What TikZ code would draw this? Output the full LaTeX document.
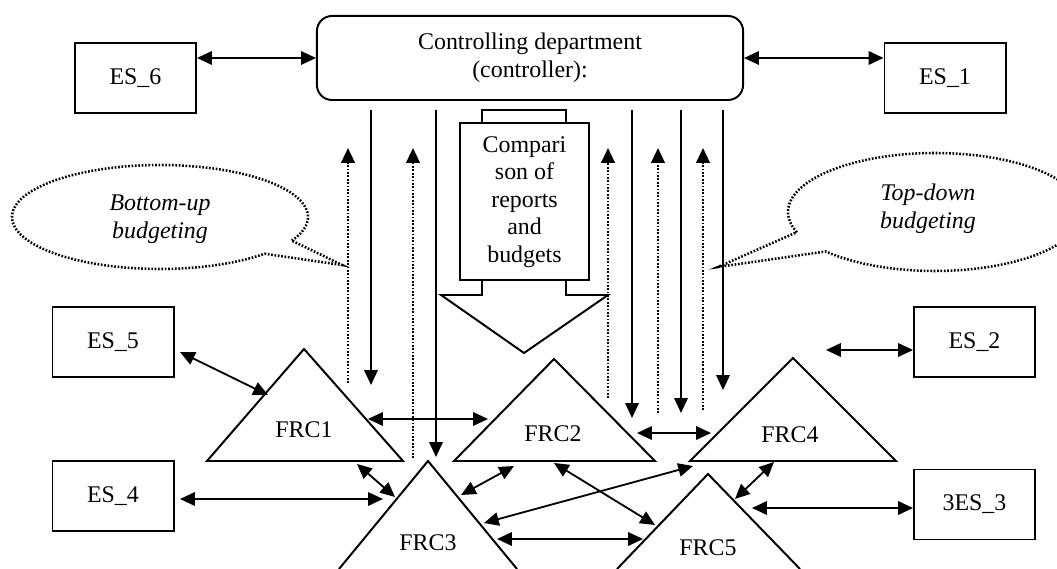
\documentclass[tikz,border=0pt]{standalone}
\usepackage{fontspec}
\setmainfont{Liberation Serif}
\usetikzlibrary{arrows.meta}
\begin{document}
\begin{tikzpicture}[x=0.025cm,y=-0.025cm,
  every node/.style={font=\fontsize{17}{20}\selectfont},
  esbox/.style={draw,line width=1.4pt,minimum width=3.025cm,minimum height=1.75cm,inner sep=0pt},
  conn/.style={line width=1.3pt,{Triangle[length=10.5pt,width=9.5pt]}-{Triangle[length=10.5pt,width=9.5pt]}},
  downarr/.style={line width=1.3pt,-{Triangle[length=10.5pt,width=9.5pt]}},
  dots/.style={line width=1.8pt,dash pattern=on 1.2pt off 1.2pt},
  uparr/.style={dots,-{Triangle[length=10.5pt,width=9.5pt]}},
  shapeline/.style={line width=1.4pt,line join=miter},
]
\useasboundingbox (0,0) rectangle (1057,569);
\clip (0,0) rectangle (1057,569);

% boxes
\node[draw,line width=1.4pt,rounded corners=0.375cm,minimum width=10.65cm,minimum height=2.1cm,align=center,inner sep=0pt] (ctrl) at (530,58) {Controlling department\\(controller):};
\node[esbox] (es6) at (135.5,78) {ES\_6};
\node[esbox] (es1) at (945,78) {ES\_1};
\node[esbox] (es5) at (113,342) {ES\_5};
\node[esbox] (es4) at (113,496) {ES\_4};
\node[esbox] (es2) at (974.5,342) {ES\_2};
\node[esbox] (es3) at (974.5,504.5) {3ES\_3};

% comparison block
\draw[shapeline] (482,123) -- (482,110) -- (566,110) -- (566,123);
\draw[shapeline] (460,123) rectangle (589,280);
\draw[shapeline] (482,280) -- (482,295) -- (441,295) -- (524,353) -- (608,295) -- (566,295) -- (566,280);
\node[align=center,font=\fontsize{17}{19.6}\selectfont] (cmp) at (524.5,202) {Compari\\son of\\reports\\and\\budgets};

% triangles
\draw[shapeline] (207,461) -- (304,349) -- (403,461) -- cycle;
\draw[shapeline] (454,461) -- (554,359) -- (655,461) -- cycle;
\draw[shapeline] (690,461) -- (793,358) -- (896,461) -- cycle;
\draw[shapeline] (339,569) -- (428,461) -- (517,569);
\draw[shapeline] (617,569) -- (708,474) -- (800,569);
\node (frc1) at (304,430) {FRC1};
\node (frc2) at (553,434) {FRC2};
\node (frc3) at (428,543) {FRC3};
\node (frc4) at (790,435) {FRC4};
\node (frc5) at (708,548) {FRC5};

% callouts
\draw[dots] plot[domain=27:-315,samples=120,smooth] ({160+148*cos(\x)},{217+52*sin(\x)}) -- (342,265) -- cycle;
\node[font=\fontsize{17}{20}\selectfont\itshape,align=center] (bu) at (160,219) {Bottom-up\\budgeting};
\draw[dots] plot[domain=160:498,samples=120,smooth] ({935+147*cos(\x)},{212+59*sin(\x)}) -- (718,267) -- cycle;
\node[font=\fontsize{17}{20}\selectfont\itshape,align=center] (td) at (928,209) {Top-down\\budgeting};

% vertical solid arrows (controller -> FRCs)
\coordinate (s1a) at (371,110); \coordinate (s1b) at (371,385);
\coordinate (s2a) at (436,110); \coordinate (s2b) at (436,457);
\coordinate (s3a) at (632,110); \coordinate (s3b) at (632,418);
\coordinate (s4a) at (681,110); \coordinate (s4b) at (681,413);
\coordinate (s5a) at (723,110); \coordinate (s5b) at (723,390);
\foreach \i in {1,...,5} { \draw[downarr] (s\i a) -- (s\i b); }

% vertical dotted arrows (FRCs -> controller)
\coordinate (d1a) at (348,383); \coordinate (d1b) at (348,148);
\coordinate (d2a) at (413,458); \coordinate (d2b) at (413,148);
\coordinate (d3a) at (608,398); \coordinate (d3b) at (608,148);
\coordinate (d4a) at (658,413); \coordinate (d4b) at (658,148);
\coordinate (d5a) at (703,410); \coordinate (d5b) at (703,148);
\foreach \i in {1,...,5} { \draw[uparr] (d\i a) -- (d\i b); }

% connectors
\draw[conn] (es6.east|-ctrl.west) -- (ctrl.west);
\draw[conn] (ctrl.east) -- (es1.west|-ctrl.east);
\coordinate (c5a) at (180,352); \coordinate (c5b) at (268,395);
\draw[conn] (c5a) -- (c5b);
\coordinate (c12a) at (368,419); \coordinate (c12b) at (488,419);
\draw[conn] (c12a) -- (c12b);
\coordinate (c13a) at (357,464); \coordinate (c13b) at (395,497);
\draw[conn] (c13a) -- (c13b);
\coordinate (c43a) at (180,499); \coordinate (c43b) at (383,499);
\draw[conn] (c43a) -- (c43b);
\coordinate (c23a) at (514,466); \coordinate (c23b) at (461,495);
\draw[conn] (c23a) -- (c23b);
\coordinate (c25a) at (554,463); \coordinate (c25b) at (655,525);
\draw[conn] (c25a) -- (c25b);
\coordinate (c34a) at (484,523); \coordinate (c34b) at (693,466);
\draw[conn] (c34a) -- (c34b);
\coordinate (c35a) at (497,539); \coordinate (c35b) at (643,539);
\draw[conn] (c35a) -- (c35b);
\coordinate (c24a) at (637,433); \coordinate (c24b) at (711,433);
\draw[conn] (c24a) -- (c24b);
\coordinate (c45a) at (774,462); \coordinate (c45b) at (735,499);
\draw[conn] (c45a) -- (c45b);
\coordinate (c53a) at (752,508);
\draw[conn] (c53a) -- (es3.west|-c53a);
\coordinate (c2a) at (826,350);
\draw[conn] (c2a) -- (es2.west|-c2a);
\end{tikzpicture}
\end{document}
